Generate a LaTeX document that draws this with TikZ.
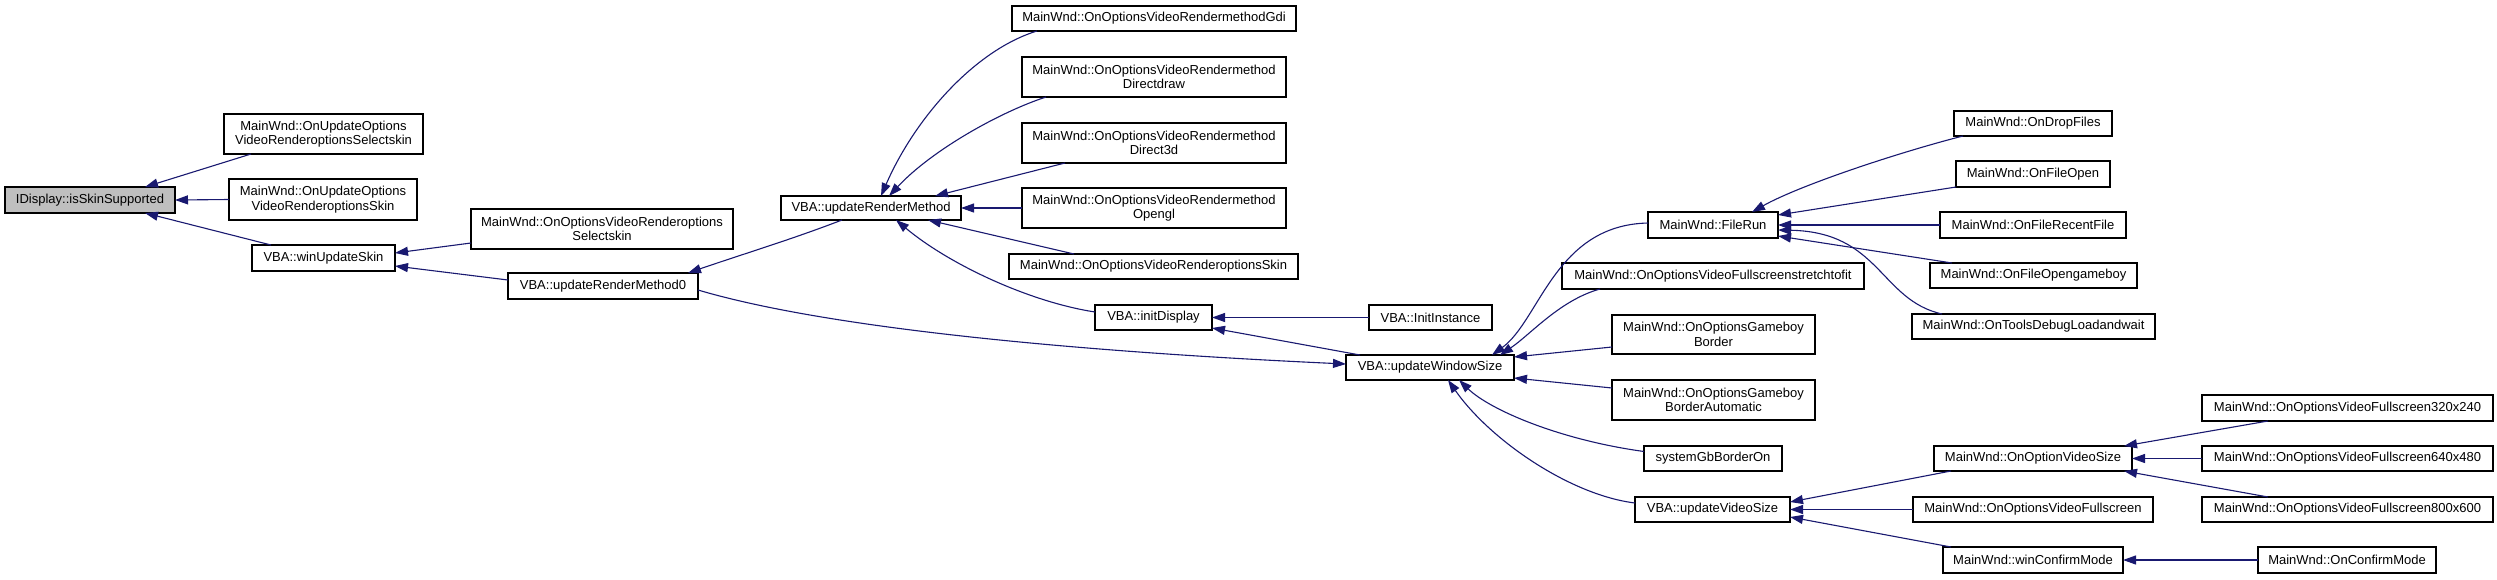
\documentclass[tikz,border=0pt]{standalone}
\usepackage{fontspec}
\setmainfont{Liberation Sans}
\usetikzlibrary{arrows.meta,calc}
\definecolor{edgec}{HTML}{191970}
\definecolor{rootfill}{HTML}{BFBFBF}
\newcommand{\gbox}[7][]{\node[nbox,#1,minimum width={(#5)-(#3)},minimum height={(#6)-(#4)}] (#2) at ({((#3)+(#5))/2},{((#4)+(#6))/2}) {#7};}
\begin{document}
\begin{tikzpicture}[x=1pt,y=-1pt,
  nbox/.style={draw=black, fill=white, line width=1.1pt, inner sep=0pt, outer sep=0pt, align=center, font=\fontsize{13}{14.5}\selectfont},
  rootbox/.style={fill=rootfill},
  edge/.style={draw=edgec, line width=1.1pt, -{Triangle[length=13pt,width=9pt]}}]
\useasboundingbox[fill=white] (0,0) rectangle (2497,579);
% nodes
\gbox[rootbox]{isk}{5}{187}{175}{213}{IDisplay::isSkinSupported}
\gbox{uos}{224}{114}{423}{154}{MainWnd::OnUpdateOptions\\VideoRenderoptionsSelectskin}
\gbox{uok}{229}{179}{417}{220}{MainWnd::OnUpdateOptions\\VideoRenderoptionsSkin}
\gbox{wus}{252}{245}{395}{271}{VBA::winUpdateSkin}
\gbox{ovrs}{471}{209}{733}{249}{MainWnd::OnOptionsVideoRenderoptions\\Selectskin}
\gbox{urm0}{508}{273}{698}{299}{VBA::updateRenderMethod0}
\gbox{urm}{781}{196}{961}{220}{VBA::updateRenderMethod}
\gbox{gdi}{1012}{6}{1296}{31}{MainWnd::OnOptionsVideoRendermethodGdi}
\gbox{ddraw}{1022}{57}{1286}{97}{MainWnd::OnOptionsVideoRendermethod\\Directdraw}
\gbox{d3d}{1022}{123}{1286}{163}{MainWnd::OnOptionsVideoRendermethod\\Direct3d}
\gbox{ogl}{1022}{188}{1286}{228}{MainWnd::OnOptionsVideoRendermethod\\Opengl}
\gbox{rsk}{1009}{254}{1298}{279}{MainWnd::OnOptionsVideoRenderoptionsSkin}
\gbox{idisp}{1095}{305}{1212}{330}{VBA::initDisplay}
\gbox{inst}{1369}{305}{1492}{330}{VBA::InitInstance}
\gbox{uws}{1346}{355}{1514}{380}{VBA::updateWindowSize}
\gbox{frun}{1648}{212}{1778}{238}{MainWnd::FileRun}
\gbox{fsf}{1562}{263}{1864}{289}{MainWnd::OnOptionsVideoFullscreenstretchtofit}
\gbox{gbb}{1612}{315}{1815}{354}{MainWnd::OnOptionsGameboy\\Border}
\gbox{gba}{1612}{380}{1815}{420}{MainWnd::OnOptionsGameboy\\BorderAutomatic}
\gbox{sgb}{1644}{446}{1782}{471}{systemGbBorderOn}
\gbox{uvs}{1635}{497}{1790}{522}{VBA::updateVideoSize}
\gbox{drop}{1954}{111}{2112}{136}{MainWnd::OnDropFiles}
\gbox{fopen}{1956}{161}{2110}{187}{MainWnd::OnFileOpen}
\gbox{recent}{1940}{212}{2126}{238}{MainWnd::OnFileRecentFile}
\gbox{fgb}{1930}{263}{2137}{288}{MainWnd::OnFileOpengameboy}
\gbox{tdl}{1912}{314}{2155}{339}{MainWnd::OnToolsDebugLoadandwait}
\gbox{ovs}{1934}{446}{2132}{471}{MainWnd::OnOptionVideoSize}
\gbox{ovf}{1913}{497}{2153}{522}{MainWnd::OnOptionsVideoFullscreen}
\gbox{wcm}{1943}{547}{2123}{573}{MainWnd::winConfirmMode}
\gbox{f320}{2202}{395}{2493}{421}{MainWnd::OnOptionsVideoFullscreen320x240}
\gbox{f640}{2202}{446}{2493}{471}{MainWnd::OnOptionsVideoFullscreen640x480}
\gbox{f800}{2202}{497}{2493}{522}{MainWnd::OnOptionsVideoFullscreen800x600}
\gbox{ocm}{2258}{547}{2436}{573}{MainWnd::OnConfirmMode}
% edges (caller -> callee, arrow at callee)
\draw[edge] ($(uos.south west)+(27,0)$) -- ($(isk.north west)+(140,0)$);
\draw[edge] (uok.west) -- (isk.east);
\draw[edge] ($(wus.north west)+(19,0)$) -- ($(isk.south west)+(140,0)$);
\draw[edge] ($(ovrs.south west)+(0,-6)$) -- ($(wus.north east)+(0,8)$);
\draw[edge] ($(urm0.north west)+(0,7)$) -- ($(wus.south east)+(0,-5)$);
\draw[edge] ($(urm.south west)+(61,0)$) .. controls (790,240) and (740,255) .. ($(urm0.north east)+(-10,0)$);
\draw[edge] ($(gdi.south west)+(25,0)$) .. controls (975,50) and (915,118) .. ($(urm.north west)+(100,0)$);
\draw[edge] ($(ddraw.south west)+(24,0)$) .. controls (1000,112) and (932,150) .. ($(urm.north west)+(108,0)$);
\draw[edge] ($(d3d.south west)+(43,0)$) -- ($(urm.north west)+(154,0)$);
\draw[edge] (ogl.west) -- (urm.east);
\draw[edge] ($(rsk.north west)+(65,0)$) -- ($(urm.south west)+(147,0)$);
\draw[edge] ($(idisp.west)+(0,-5.5)$) .. controls (1030,302) and (950,265) .. ($(urm.south west)+(115,0)$);
\draw[edge] (inst.west) -- (idisp.east);
\draw[edge] ($(uws.north west)+(14,0)$) -- ($(idisp.south east)+(0,-2)$);
\draw[edge] ($(urm0.east)+(0,4)$) .. controls (850,335) and (1150,355) .. ($(uws.west)+(0,-3.5)$);
\draw[edge] ($(frun.west)+(0,-2)$) .. controls (1555,225) and (1540,320) .. ($(uws.north east)+(-22,0)$);
\draw[edge] ($(fsf.south west)+(38,0)$) .. controls (1560,300) and (1530,335) .. ($(uws.north east)+(-14,0)$);
\draw[edge] ($(gbb.west)+(0,12.5)$) -- ($(uws.east)+(0,-10.5)$);
\draw[edge] ($(gba.west)+(0,-12)$) -- ($(uws.south east)+(0,-2)$);
\draw[edge] ($(sgb.west)+(0,-7)$) .. controls (1560,440) and (1490,410) .. ($(uws.south west)+(113,0)$);
\draw[edge] ($(uvs.west)+(0,-6.5)$) .. controls (1570,495) and (1490,440) .. ($(uws.south west)+(102,0)$);
\draw[edge] ($(drop.south west)+(9,0)$) .. controls (1900,152) and (1800,185) .. ($(frun.north west)+(104,0)$);
\draw[edge] (fopen.south west) -- ($(frun.north east)+(0,3)$);
\draw[edge] (recent.west) -- (frun.east);
\draw[edge] ($(fgb.north west)+(22,0)$) -- ($(frun.south east)+(0,-2)$);
\draw[edge] ($(tdl.north west)+(30,0)$) .. controls (1880,300) and (1880,232) .. ($(frun.east)+(0,5)$);
\draw[edge] ($(ovs.south west)+(17,0)$) -- ($(uvs.north east)+(0,5)$);
\draw[edge] (ovf.west) -- (uvs.east);
\draw[edge] ($(wcm.north west)+(8,0)$) -- ($(uvs.south east)+(0,-5)$);
\draw[edge] ($(f320.south west)+(66,0)$) -- ($(ovs.north east)+(-8,0)$);
\draw[edge] (f640.west) -- (ovs.east);
\draw[edge] ($(f800.north west)+(66,0)$) -- ($(ovs.south east)+(-8,0)$);
\draw[edge] (ocm.west) -- (wcm.east);
\end{tikzpicture}
\end{document}
